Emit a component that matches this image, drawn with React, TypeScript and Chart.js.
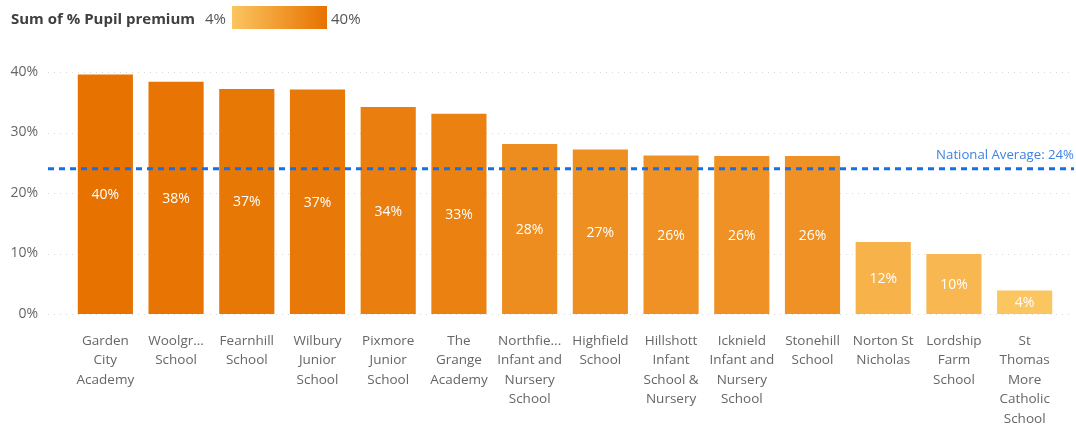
import React, { useEffect, useRef } from "react";
import { Chart, registerables } from "chart.js";

Chart.register(...registerables);

const schools: string[][] = [
  ["Garden", "City", "Academy"],
  ["Woolgr...", "School"],
  ["Fearnhill", "School"],
  ["Wilbury", "Junior", "School"],
  ["Pixmore", "Junior", "School"],
  ["The", "Grange", "Academy"],
  ["Northfie...", "Infant and", "Nursery", "School"],
  ["Highfield", "School"],
  ["Hillshott", "Infant", "School &", "Nursery"],
  ["Icknield", "Infant and", "Nursery", "School"],
  ["Stonehill", "School"],
  ["Norton St", "Nicholas"],
  ["Lordship", "Farm", "School"],
  ["St", "Thomas", "More", "Catholic", "School"],
];

const pupilPremium: number[] = [39.6, 38.4, 37.2, 37.1, 34.2, 33.1, 28.1, 27.2, 26.2, 26.1, 26.1, 11.9, 9.9, 3.9];

const yTicks: number[] = [0, 10, 20, 30, 40];

const nationalAverage = 24;

const lowColor = [251, 197, 96];
const highColor = [231, 114, 0];

const FONT = "'Open Sans', 'Noto Sans', sans-serif";

function colorFor(v: number, min: number, max: number): string {
  const t = max === min ? 1 : (v - min) / (max - min);
  const c = lowColor.map((l, i) => Math.round(l + (highColor[i] - l) * t));
  return `rgb(${c[0]},${c[1]},${c[2]})`;
}

export default function App() {
  const ref = useRef<HTMLCanvasElement | null>(null);

  useEffect(() => {
    if (!ref.current) return;
    const min = Math.min(...pupilPremium);
    const max = Math.max(...pupilPremium);
    const colors = pupilPremium.map((v) => colorFor(v, min, max));

    const overlay = {
      id: "overlay",
      beforeDatasetsDraw(chart: any) {
        const ctx = chart.ctx;
        const y = chart.scales.y;
        ctx.save();
        ctx.strokeStyle = "#d9d9d9";
        ctx.lineWidth = 1;
        ctx.setLineDash([1, 5]);
        for (const t of yTicks) {
          const py = Math.round(y.getPixelForValue(t)) + 0.5;
          ctx.beginPath();
          ctx.moveTo(48, py);
          ctx.lineTo(1072, py);
          ctx.stroke();
        }
        ctx.restore();
      },
      afterDatasetsDraw(chart: any) {
        const ctx = chart.ctx;
        const meta = chart.getDatasetMeta(0);
        ctx.save();
        ctx.fillStyle = "#ffffff";
        ctx.font = `14px ${FONT}`;
        ctx.textAlign = "center";
        ctx.textBaseline = "middle";
        meta.data.forEach((bar: any, i: number) => {
          const mid = (bar.y + bar.base) / 2;
          ctx.fillText(Math.round(pupilPremium[i]) + "%", bar.x, mid + 1);
        });
        // national average line
        const yScale = chart.scales.y;
        const py = yScale.getPixelForValue(nationalAverage);
        ctx.strokeStyle = "#1170ea";
        ctx.lineWidth = 3;
        ctx.setLineDash([6, 5]);
        ctx.beginPath();
        ctx.moveTo(48, py);
        ctx.lineTo(1074, py);
        ctx.stroke();
        ctx.setLineDash([]);
        ctx.fillStyle = "#3d83e2";
        ctx.font = `13.2px ${FONT}`;
        ctx.textAlign = "right";
        ctx.textBaseline = "middle";
        ctx.fillText("National Average: " + nationalAverage + "%", 1074, py - 14);
        ctx.restore();
      },
    };

    const chart = new Chart(ref.current, {
      type: "bar",
      data: {
        labels: schools,
        datasets: [
          {
            data: pupilPremium,
            backgroundColor: colors,
            categoryPercentage: 1,
            barPercentage: 0.78,
          },
        ],
      },
      options: {
        animation: false,
        responsive: false,
        maintainAspectRatio: false,
        layout: { padding: { top: 72, right: 16, left: 0, bottom: 0 } },
        plugins: {
          legend: { display: false },
          tooltip: { enabled: false },
        },
        scales: {
          x: {
            grid: { display: false },
            border: { display: false },
            ticks: {
              autoSkip: false,
              maxRotation: 0,
              minRotation: 0,
              color: "#666666",
              padding: 9,
              font: { family: FONT, size: 13.5, lineHeight: 1.45 },
            },
            afterFit(scale: any) {
              scale.height = 111;
            },
          },
          y: {
            min: 0,
            max: 40,
            grid: { display: false },
            border: { display: false },
            afterBuildTicks(scale: any) {
              scale.ticks = yTicks.map((v) => ({ value: v }));
            },
            ticks: {
              color: "#666666",
              padding: 24,
              font: { family: FONT, size: 14 },
              callback: (v: any) => v + "%",
            },
            afterFit(scale: any) {
              scale.width = 70;
            },
          },
        },
      },
      plugins: [overlay],
    });
    return () => chart.destroy();
  }, []);

  return (
    <div style={{ position: "fixed", left: 0, top: 0, width: 1076, height: 425, background: "#fff" }}>
      <canvas ref={ref} width={1076} height={425} style={{ position: "absolute", left: 0, top: 0 }} />
      <div
        style={{
          position: "absolute",
          left: 11,
          top: 6,
          height: 23,
          display: "flex",
          alignItems: "center",
          fontFamily: FONT,
          fontSize: 15,
          color: "#555",
          whiteSpace: "nowrap",
        }}
      >
        <span style={{ fontWeight: 700, color: "#3f3f3f", marginRight: 10 }}>Sum of % Pupil premium</span>
        <span style={{ marginRight: 6 }}>4%</span>
        <span
          style={{
            display: "inline-block",
            width: 95,
            height: 23,
            background: `linear-gradient(to right, rgb(${lowColor.join(",")}), rgb(${highColor.join(",")}))`,
            marginRight: 4,
          }}
        />
        <span>40%</span>
      </div>
    </div>
  );
}
